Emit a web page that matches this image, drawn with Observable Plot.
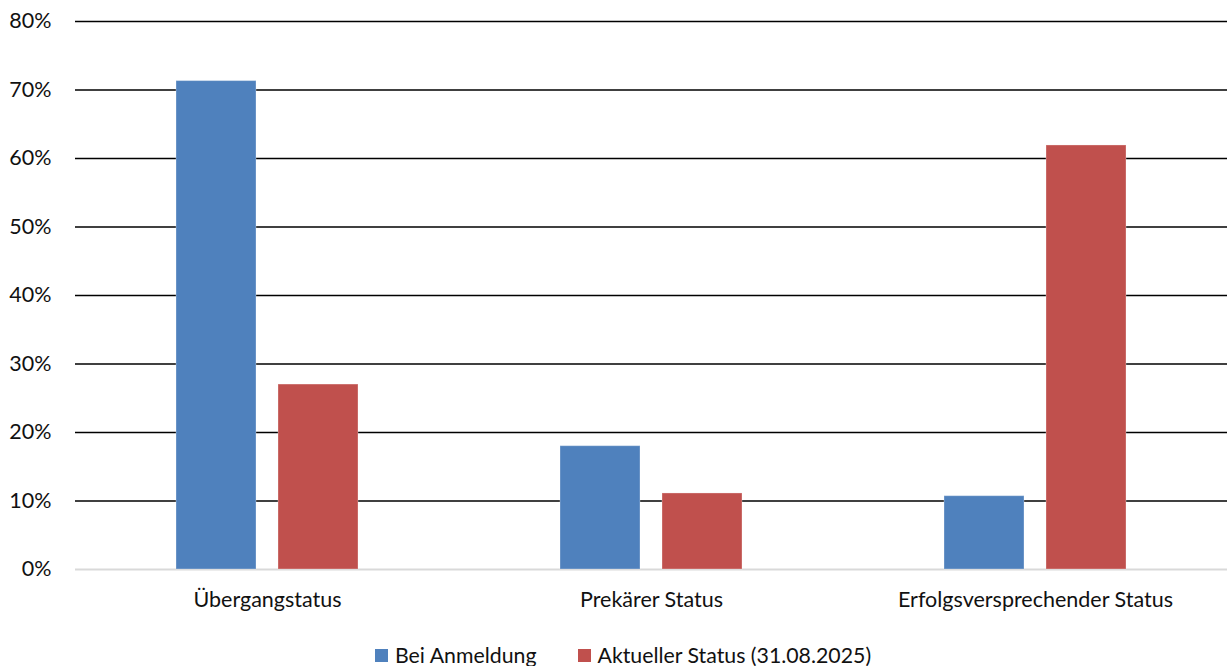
<!DOCTYPE html>
<html>
<head>
<meta charset="utf-8">
<script src="https://cdn.jsdelivr.net/npm/d3@7"></script>
<script src="https://cdn.jsdelivr.net/npm/@observablehq/plot@0.6"></script>
<style>
  body { margin: 0; background: #fff; font-family: Lato, "Open Sans", sans-serif; position: relative; width: 1228px; height: 666px; overflow: hidden; }
  #legend { position: absolute; left: 375px; top: 641px; height: 28px; display: flex; align-items: center; font-size: 21.3px; color: #111; }
  .item { display: flex; align-items: center; }
  .sw { width: 13px; height: 13px; margin-right: 7px; }
</style>
</head>
<body>
<div id="chart"></div>
<div id="legend"></div>
<script>
const categories = ["Übergangstatus", "Prekärer Status", "Erfolgsversprechender Status"];
const series = ["Bei Anmeldung", "Aktueller Status (31.08.2025)"];
const bei = [71.3, 18.0, 10.7];
const aktuell = [27.0, 11.1, 61.9];
const colors = ["#4F81BD", "#C0504D"];
const yTicks = [0, 10, 20, 30, 40, 50, 60, 70, 80];

const data = [];
categories.forEach((c, i) => {
  data.push({category: c, series: series[0], value: bei[i]});
  data.push({category: c, series: series[1], value: aktuell[i]});
});

const chart = Plot.plot({
  width: 1228,
  height: 630,
  marginTop: 21,
  marginBottom: 61,
  marginLeft: 74,
  marginRight: 0,
  style: {fontFamily: "Lato, 'Open Sans', sans-serif", fontSize: "21.5px", color: "#111"},
  fx: {domain: categories, padding: 0},
  x: {domain: series, paddingInner: 0.214, paddingOuter: 0.98, axis: null},
  y: {domain: [0, 80]},
  color: {domain: series, range: colors},
  marks: [
    Plot.ruleY(yTicks.filter(d => d > 0), {stroke: "#000", strokeWidth: 1.6}),
    Plot.ruleY([0], {stroke: "#d9d9d9", strokeWidth: 2}),
    Plot.barY(data, {fx: "category", x: "series", y: "value", fill: "series", stroke: "#ffffff", strokeOpacity: 0.3, strokeWidth: 1}),
    Plot.axisY({ticks: yTicks, tickFormat: d => d + "%", tickSize: 0, tickPadding: 24, fontSize: 21.5, label: null}),
    Plot.axisFx({anchor: "bottom", tickSize: 0, tickPadding: 22, label: null, fontSize: 21.5})
  ]
});
document.getElementById("chart").appendChild(chart);

const legend = document.getElementById("legend");
series.forEach((s, i) => {
  const item = document.createElement("div");
  item.className = "item";
  if (i > 0) item.style.marginLeft = "41px";
  const sw = document.createElement("div");
  sw.className = "sw";
  sw.style.background = colors[i];
  const t = document.createElement("span");
  t.textContent = s;
  item.appendChild(sw);
  item.appendChild(t);
  legend.appendChild(item);
});
</script>
</body>
</html>
